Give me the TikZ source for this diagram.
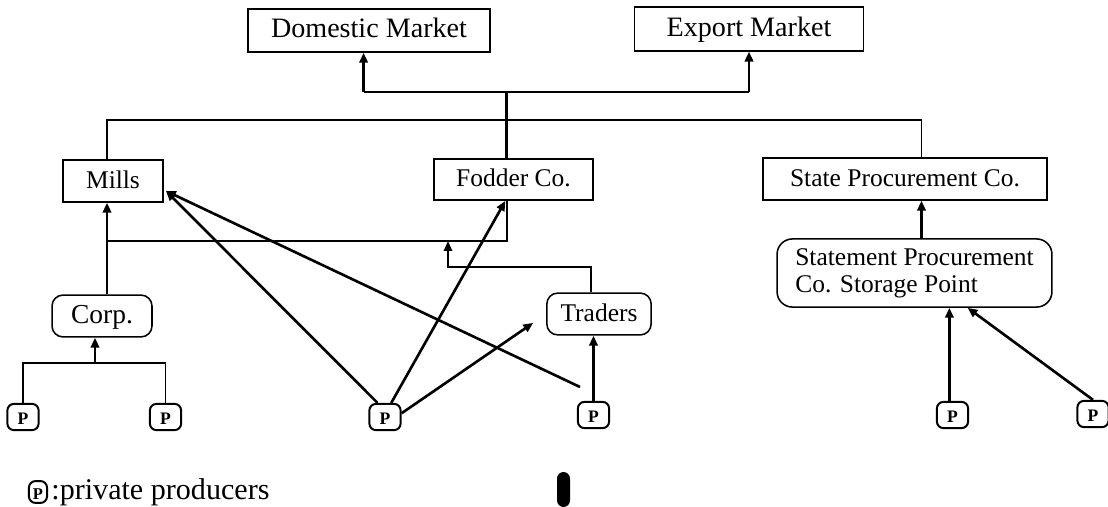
\documentclass[tikz,border=0pt]{standalone}
\usepackage{fontspec}
\setmainfont{Liberation Serif}
\usetikzlibrary{arrows.meta}
\tikzset{
	box/.style={draw, line width=0.7pt, inner sep=0pt, font=\fontsize{11.6}{12.4}\selectfont},
	oneline/.style={text height=1.44ex, text depth=0ex},
	bigbox/.style={box, oneline, font=\fontsize{12.8}{14}\selectfont},
	roundbox/.style={box, rounded corners=5pt},
	pbox/.style={draw, line width=0.9pt, rounded corners=3pt, minimum width=0.5cm, minimum height=0.42cm, inner sep=0pt, text height=1.44ex, text depth=0ex, font=\fontsize{8}{8}\selectfont\bfseries},
	link/.style={line width=0.6pt},
	trunk/.style={line width=1.3pt},
	flow/.style={line width=1.2pt, -{Triangle[length=4.5pt,width=3.8pt]}},
	linkflow/.style={line width=0.8pt, -{Triangle[length=4.5pt,width=3.8pt]}},
}

\begin{document}
\begin{tikzpicture}[x=0.016cm, y=-0.016cm]
			%%%%% START %%%%%
			\useasboundingbox (0,0) rectangle (1108,507);
			
			\node[bigbox, minimum width=3.87cm, minimum height=0.69cm] (dom) at (369,30.5) {Domestic Market};
			\node[bigbox, minimum width=3.66cm, minimum height=0.70cm] (exp) at (749,29) {Export Market};
			
			\node[box, oneline, minimum width=1.6cm, minimum height=0.67cm] (mills) at (113,181) {Mills};
			\node[box, oneline, minimum width=2.54cm, minimum height=0.66cm] (fodder) at (513.5,179.5) {Fodder Co.};
			\node[box, oneline, minimum width=4.54cm, minimum height=0.67cm] (state) at (905,179) {State Procurement Co.};
			\node[roundbox, rounded corners=7pt, align=left, minimum width=4.4cm, minimum height=1.09cm] (store) at (914.5,273) {Statement Procurement\\Co. Storage Point};
			
			\node[roundbox, oneline, font=\fontsize{12.5}{14}\selectfont, minimum width=1.6cm, minimum height=0.67cm] (corp) at (102,316) {Corp.};
			\node[roundbox, oneline, minimum width=1.67cm, minimum height=0.67cm] (traders) at (599,314) {Traders};
			
			\foreach \n/\x/\y in {1/23/417, 2/165.5/417, 3/385/417, 4/593.5/415, 5/952.5/415, 6/1093/414}
				\node[pbox] (p\n) at (\x,\y) {P};
			
			% join points
			\coordinate (split) at (506.5,92);
			\coordinate (dsplit) at (363.6,92);
			\coordinate (collect) at (107,120);
			\coordinate (scol) at (921.5,120);
			\coordinate (mcol) at (107,241);
			\coordinate (fcol) at (507,241);
			\coordinate (tjoin) at (448,241);
			\coordinate (tbend) at (448,266.7);
			\coordinate (cjoin) at (95,363);
			\coordinate (mhit) at (166,191);
			\coordinate (tend) at (580,387);
			
			% to the markets
			\draw[link] (dsplit) -- (exp.south |- split);
			\draw[flow] (dsplit) -- (dsplit |- dom.south);
			\draw[flow] (exp.south |- split) -- (exp.south);
			\draw[trunk] (split) -- (split |- fodder.north);
			\draw[link] (collect |- mills.north) -- (collect) -- (scol) -- (scol |- state.north);
			
			% mills and fodder
			\draw[flow] (mcol |- corp.north) -- (mcol |- mills.south);
			\draw[link] (mcol) -- (fcol) -- (fcol |- fodder.south);
			\draw[linkflow] (traders.north -| 590.7,0) |- (tbend) -- (tjoin);
			
			% producers
			\draw[link] (p1.north) |- (cjoin);
			\draw[link] (p2.north) |- (cjoin);
			\draw[flow] (cjoin) -- (cjoin |- corp.south);
			
			\draw[flow] ([xshift=-0.12cm]p3.north) -- (mhit);
			\draw[flow] ([xshift=0.1cm]p3.north) -- ([xshift=-0.13cm]fodder.south);
			\draw[flow, shorten >=0.25cm] ([yshift=0.06cm]p3.east) -- (traders.west);
			\draw[flow] (tend) -- (mhit);
			\draw[flow] (p4.north) -- (p4.north |- traders.south);
			
			\draw[flow] (scol |- store.north) -- (scol |- state.south);
			\draw[flow] ([xshift=-0.05cm]p5.north) -- ([xshift=-0.05cm]p5.north |- store.south);
			\draw[flow] (p6.north) -- ([xshift=0.85cm]store.south);
			
			% key
			\node[pbox, minimum width=0.29cm, minimum height=0.35cm, font=\fontsize{7.5}{8}\selectfont\bfseries] (key) at (38,492) {P};
			\node[anchor=west, inner sep=0pt, font=\fontsize{13.7}{15}\selectfont] (keytext) at (51,492) {:private producers};
			
			\fill[rounded corners=3pt] (557,472) rectangle (570,507);
			
			%%%%% END %%%%%
\end{tikzpicture}
\end{document}
